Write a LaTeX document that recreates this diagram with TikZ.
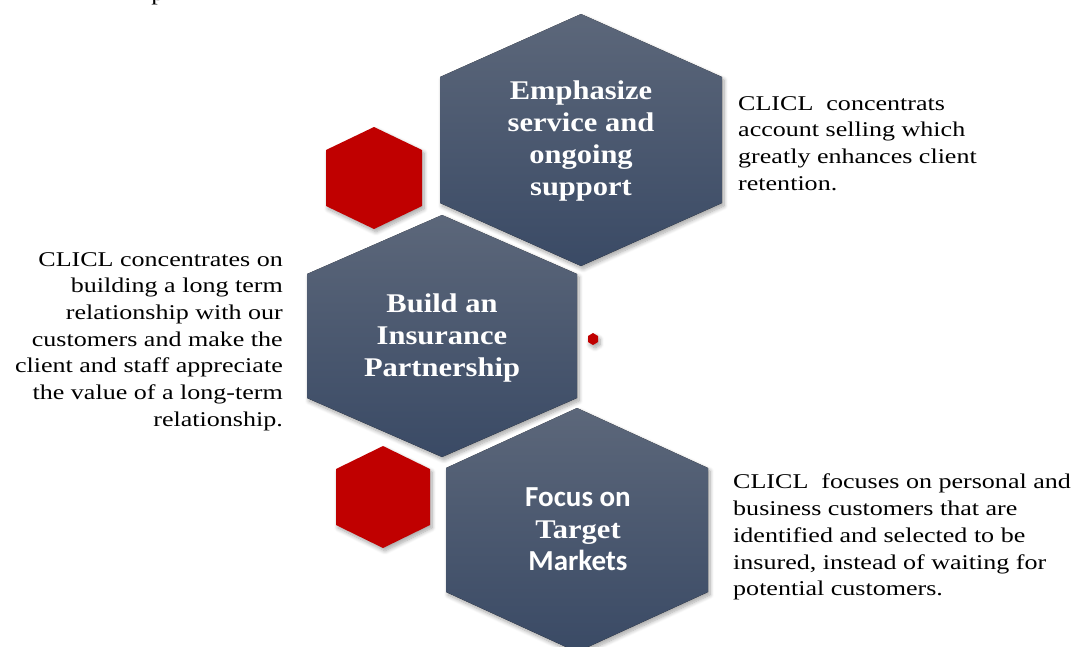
\documentclass[tikz,border=0pt]{standalone}
\usepackage{fontspec}
\setmainfont[FakeStretch=1.24]{Liberation Serif}
\newfontfamily\hexfont[FakeStretch=1.13]{Liberation Serif}
\newfontfamily\hexsans{Carlito}
\usetikzlibrary{shadows.blur}

\definecolor{hextop}{RGB}{92,103,122}
\definecolor{hexbot}{RGB}{58,74,101}
\definecolor{hexred}{RGB}{192,0,0}

\tikzset{
  softshadow/.style={blur shadow={shadow xshift=2pt, shadow yshift=-3pt,
      shadow blur steps=8, shadow blur radius=4pt, shadow opacity=35}},
  bluehex/.style={top color=hextop, bottom color=hexbot, softshadow},
  redhex/.style={fill=hexred, softshadow},
  hexlabel/.style={text=white, align=center, inner sep=0pt,
      font=\hexfont\bfseries\fontsize{27}{32}\selectfont},
  sidetext/.style={inner sep=0pt, font=\fontsize{21}{26.7}\selectfont},
}

% hexagon with pointed top: [style]{cx}{cy}{half width}{apex}{side}
\newcommand{\hexagon}[6][]{%
  \fill[#1] (#2,#3-#5) -- (#2+#4,#3-#6) -- (#2+#4,#3+#6)
    -- (#2,#3+#5) -- (#2-#4,#3+#6) -- (#2-#4,#3-#6) -- cycle;}

\begin{document}
\begin{tikzpicture}[x=1pt, y=-1pt]
\useasboundingbox (0,0) rectangle (1073,646);
\clip (0,0) rectangle (1073,646);

% red hexagons
\hexagon[redhex]{374}{178}{48}{51}{28}
\hexagon[redhex]{383}{497}{47}{51}{28}
\hexagon[redhex]{593}{339}{5}{6}{3}

% big hexagons
\hexagon[bluehex]{581}{140}{141}{126}{63}
\hexagon[bluehex]{442}{336}{135}{121}{62}
\hexagon[bluehex]{577}{530}{131}{122}{62}

\node[hexlabel] (service) at (581,141) {Emphasize\\ service and\\ ongoing\\ support};
\node[hexlabel] (partner) at (442,338) {Build an\\ Insurance\\ Partnership};
\node[hexlabel] (markets) at (578,529)
  {{\hexsans\fontsize{29}{32}\selectfont Focus on}\\ Target\\ {\hexsans\fontsize{29}{32}\selectfont Markets}};

% descriptions
\node[sidetext, align=left, anchor=north west] (serviceText) at (738,96)
  {CLICL~ concentrats\\ account selling which\\ greatly enhances client\\ retention.};
\node[sidetext, align=right, anchor=north east] (partnerText) at (283,252)
  {CLICL concentrates on\\ building a long term\\ relationship with our\\ customers and make the\\
   client and staff appreciate\\ the value of a long-term\\ relationship.};
\node[sidetext, align=left, anchor=north west] (marketsText) at (733,474)
  {CLICL~ focuses on personal and\\ business customers that are\\ identified and selected to be\\
   insured, instead of waiting for\\ potential customers.};

\node[sidetext, anchor=base] (cut) at (158,0) {p};
\end{tikzpicture}
\end{document}
